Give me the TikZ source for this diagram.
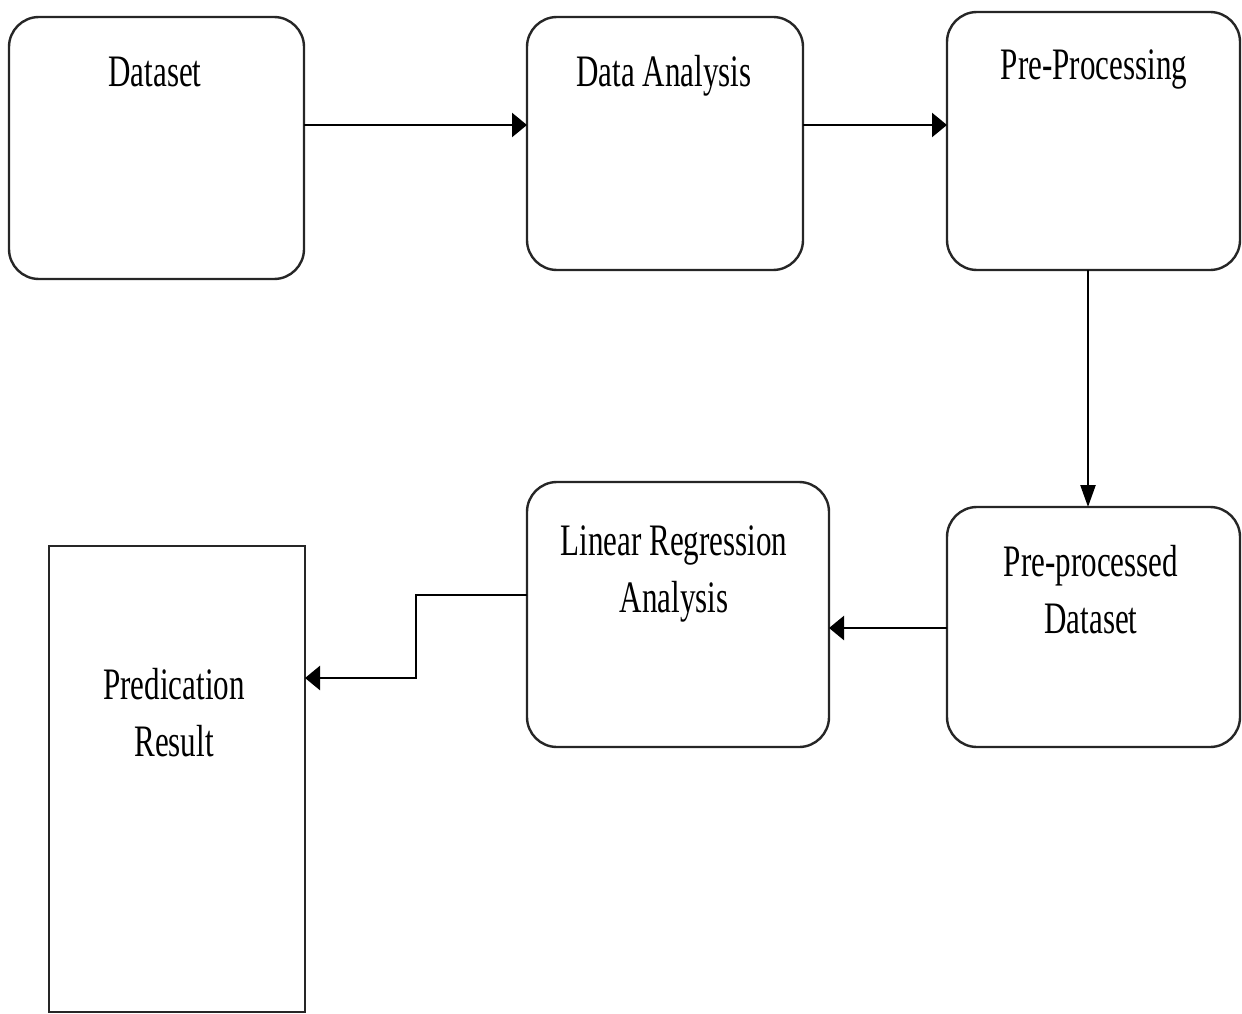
\documentclass[tikz,border=0pt]{standalone}
\usepackage{fontspec}
\setmainfont[FakeStretch=0.69]{Liberation Serif}
\usetikzlibrary{arrows.meta}
\begin{document}
\begin{tikzpicture}[x=1pt,y=-1pt,
  box/.style={draw=black!85, line width=2.4pt, rounded corners=30pt, inner sep=0pt, outer sep=0pt},
  sqbox/.style={draw=black!85, line width=2.4pt, inner sep=0pt, outer sep=0pt},
  txt/.style={font=\fontsize{45}{57}\selectfont, align=center, anchor=base, inner sep=0pt},
  harr/.style={line width=2.4pt, -{Triangle[length=15pt,width=24pt]}},
  varr/.style={line width=2.4pt, -{Triangle[length=22pt,width=15pt]}}]
\useasboundingbox (0,0) rectangle (1242,1014);
\node[box, minimum width=295pt, minimum height=262pt] (b1) at (156.5,148) {};
\node[box, minimum width=276pt, minimum height=253pt] (b2) at (665,143.5) {};
\node[box, minimum width=293pt, minimum height=258pt] (b3) at (1093.5,141) {};
\node[box, minimum width=293pt, minimum height=240pt] (b4) at (1093.5,627) {};
\node[box, minimum width=302pt, minimum height=265pt] (b5) at (678,614.5) {};
\node[sqbox, minimum width=256pt, minimum height=466pt] (b6) at (177,779) {};
\node[txt] (t1) at (155,87) {Dataset};
\node[txt] (t2) at (664,87) {Data Analysis};
\node[txt] (t3) at (1094,80) {Pre-Processing};
\node[txt] (t4) at (1091,633) {Pre-processed\\Dataset};
\node[txt] (t5) at (674,612) {Linear Regression\\Analysis};
\node[txt] (t6) at (174,756) {Predication\\Result};
\draw[harr] (b1.east |- 0,125) -- (b2.west |- 0,125);
\draw[harr] (b2.east |- 0,125) -- (b3.west |- 0,125);
\draw[varr] (b3.south -| 1088,0) -- (b4.north -| 1088,0);
\draw[harr] (b4.west |- 0,628) -- (b5.east |- 0,628);
\draw[harr] (b5.west |- 0,595) -- (416,595) -- (416,678) -- (b6.east |- 0,678);
\end{tikzpicture}
\end{document}
